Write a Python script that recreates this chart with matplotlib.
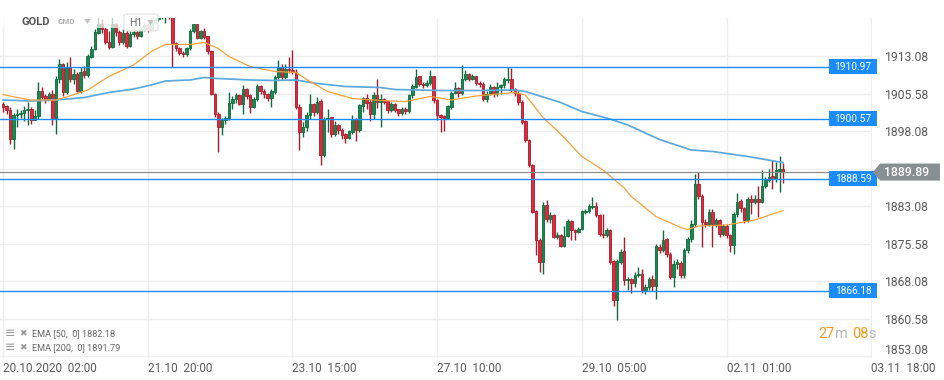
import numpy as np
import matplotlib.pyplot as plt
from matplotlib.patches import Polygon, Rectangle, FancyBboxPatch
from matplotlib import transforms

#* Hourly candles (bar index 0 = 20.10.2020 02:00)
first_open = 1903.6
close = [
  1903.0, 1902.3, 1896.5, 1901.3, 1901.5, 1901.8, 1902.3, 1902.6, 1900.4, 1901.2,
  1906.1, 1905.0, 1904.6, 1905.4, 1900.6, 1908.6, 1911.5, 1906.0, 1911.0, 1908.5,
  1909.5, 1906.2, 1910.0, 1909.3, 1913.0, 1914.6, 1917.8, 1919.5, 1918.5, 1916.0,
  1915.0, 1919.5, 1918.0, 1916.0, 1917.8, 1915.2, 1917.5, 1918.0, 1917.2, 1918.5,
  1919.3, 1918.6, 1919.8, 1920.5, 1921.0, 1921.8, 1922.5, 1921.5, 1915.7, 1914.7,
  1913.7, 1913.5, 1914.7, 1918.1, 1919.4, 1916.8, 1918.1, 1917.0, 1914.1, 1905.6,
  1901.6, 1899.0, 1900.3, 1900.7, 1903.8, 1904.5, 1905.3, 1903.6, 1906.6, 1905.2,
  1903.0, 1904.6, 1907.0, 1906.1, 1905.5, 1904.8, 1906.0, 1909.0, 1911.0, 1909.0,
  1910.6, 1910.3, 1909.9, 1903.0, 1898.0, 1899.0, 1901.3, 1903.4, 1902.0, 1904.0,
  1893.3, 1900.5, 1900.8, 1897.6, 1899.3, 1898.3, 1897.4, 1896.8, 1898.0, 1900.6,
  1898.3, 1903.2, 1904.8, 1903.8, 1901.6, 1905.3, 1903.9, 1904.6, 1904.0, 1902.3,
  1903.6, 1902.4, 1901.8, 1902.6, 1902.1, 1905.3, 1907.0, 1909.0, 1907.6, 1907.3,
  1907.8, 1909.0, 1904.3, 1901.3, 1901.0, 1900.8, 1903.0, 1905.8, 1906.8, 1905.8,
  1908.6, 1909.5, 1908.6, 1909.0, 1907.8, 1907.5, 1904.6, 1905.6, 1906.8, 1905.6,
  1906.9, 1907.3, 1908.4, 1908.6, 1906.4, 1905.8, 1904.0, 1900.0, 1896.3, 1891.3,
  1882.0, 1876.3, 1872.0, 1883.3, 1880.6, 1881.3, 1877.0, 1877.3, 1875.2, 1877.1,
  1880.0, 1878.3, 1878.0, 1878.6, 1882.0, 1882.1, 1883.0, 1883.1, 1881.3, 1877.6,
  1877.3, 1878.3, 1872.0, 1864.3, 1872.0, 1874.0, 1868.3, 1868.5, 1867.8, 1869.3,
  1869.6, 1866.2, 1867.0, 1868.6, 1867.1, 1875.0, 1874.4, 1876.4, 1873.6, 1869.0,
  1871.6, 1871.8, 1869.3, 1874.3, 1876.6, 1879.5, 1887.6, 1885.1, 1880.0, 1879.5,
  1882.0, 1879.5, 1880.2, 1877.6, 1879.1, 1877.3, 1875.3, 1881.5, 1884.0, 1882.8,
  1880.3, 1884.4, 1884.0, 1884.6, 1884.0, 1887.1, 1888.4, 1889.0, 1888.6, 1890.2,
  1890.4, 1889.89,
]
high = [
  1903.9, 1903.4, 1903.0, 1901.8, 1902.6, 1902.4, 1903.2, 1903.9, 1902.9, 1902.3,
  1908.0, 1907.0, 1905.5, 1906.0, 1906.3, 1909.1, 1912.5, 1911.8, 1912.0, 1913.0,
  1910.5, 1910.0, 1911.0, 1911.2, 1913.5, 1915.2, 1918.5, 1921.0, 1920.5, 1919.0,
  1918.2, 1921.0, 1919.8, 1918.3, 1918.5, 1918.5, 1918.2, 1919.0, 1918.6, 1919.2,
  1920.0, 1919.8, 1920.5, 1921.2, 1921.8, 1922.5, 1923.0, 1922.3, 1921.8, 1916.0,
  1915.0, 1914.2, 1915.0, 1918.6, 1919.6, 1919.5, 1918.4, 1918.8, 1917.2, 1914.3,
  1905.8, 1902.0, 1900.8, 1901.2, 1906.0, 1905.2, 1905.8, 1905.5, 1907.3, 1906.8,
  1905.5, 1905.0, 1907.5, 1907.3, 1906.5, 1905.7, 1906.5, 1909.3, 1912.3, 1911.5,
  1911.6, 1913.0, 1914.3, 1910.5, 1903.5, 1900.0, 1902.0, 1905.5, 1903.8, 1905.0,
  1904.5, 1901.0, 1902.5, 1901.0, 1900.2, 1899.6, 1898.7, 1897.8, 1898.4, 1901.3,
  1900.8, 1903.6, 1905.0, 1905.5, 1904.5, 1906.0, 1908.5, 1905.6, 1904.8, 1904.2,
  1904.0, 1903.8, 1902.6, 1903.0, 1903.0, 1905.6, 1907.5, 1910.6, 1909.2, 1908.0,
  1908.3, 1910.3, 1909.2, 1904.5, 1901.6, 1901.3, 1903.4, 1906.2, 1908.0, 1907.0,
  1911.3, 1910.4, 1909.8, 1909.6, 1909.2, 1908.2, 1908.0, 1906.2, 1907.6, 1907.2,
  1908.0, 1907.6, 1909.0, 1911.0, 1910.8, 1906.8, 1906.2, 1904.3, 1900.3, 1896.5,
  1891.6, 1882.3, 1876.8, 1884.0, 1884.3, 1882.0, 1881.6, 1878.0, 1877.5, 1879.1,
  1880.5, 1880.3, 1878.6, 1879.0, 1882.3, 1882.6, 1883.6, 1885.0, 1884.0, 1881.5,
  1881.6, 1878.8, 1878.5, 1872.4, 1872.6, 1874.6, 1876.9, 1869.0, 1868.8, 1870.0,
  1871.0, 1870.5, 1867.5, 1869.0, 1869.3, 1875.6, 1875.5, 1878.3, 1876.8, 1874.0,
  1872.3, 1872.5, 1872.2, 1874.8, 1877.0, 1880.3, 1889.6, 1890.0, 1885.5, 1880.5,
  1882.5, 1882.5, 1880.8, 1880.6, 1879.6, 1879.5, 1877.6, 1882.0, 1885.8, 1884.5,
  1883.0, 1885.0, 1885.3, 1885.3, 1887.1, 1890.4, 1889.0, 1890.6, 1892.4, 1892.0,
  1893.1, 1891.8,
]
low = [
  1902.0, 1901.6, 1895.5, 1894.6, 1898.9, 1900.8, 1900.2, 1899.3, 1899.6, 1900.3,
  1900.6, 1904.6, 1903.8, 1904.5, 1899.4, 1897.6, 1907.8, 1905.2, 1905.6, 1908.0,
  1907.5, 1906.0, 1905.8, 1908.8, 1909.0, 1912.8, 1914.3, 1917.5, 1917.8, 1915.5,
  1914.5, 1914.8, 1917.2, 1915.3, 1915.6, 1914.8, 1915.0, 1917.0, 1916.6, 1916.9,
  1918.2, 1918.0, 1918.3, 1919.5, 1920.2, 1920.6, 1919.8, 1920.5, 1910.9, 1914.2,
  1913.3, 1913.0, 1913.2, 1914.3, 1917.7, 1916.5, 1916.6, 1916.5, 1913.6, 1905.3,
  1901.0, 1894.0, 1897.4, 1899.5, 1900.3, 1902.6, 1903.8, 1903.3, 1901.5, 1904.5,
  1901.8, 1902.7, 1904.2, 1905.5, 1904.8, 1904.2, 1903.0, 1905.6, 1908.5, 1908.4,
  1908.5, 1909.8, 1909.5, 1902.6, 1894.3, 1897.0, 1898.2, 1900.5, 1901.2, 1901.5,
  1891.3, 1893.0, 1898.0, 1896.9, 1897.2, 1897.5, 1896.5, 1895.8, 1896.6, 1897.5,
  1896.2, 1897.9, 1902.0, 1902.5, 1900.2, 1900.5, 1902.8, 1899.0, 1903.5, 1901.8,
  1902.0, 1901.9, 1901.2, 1901.3, 1901.6, 1901.8, 1904.8, 1906.8, 1907.2, 1906.8,
  1907.0, 1907.4, 1903.8, 1900.3, 1898.0, 1898.2, 1900.5, 1902.6, 1905.5, 1905.0,
  1905.3, 1908.2, 1908.2, 1908.3, 1907.3, 1907.0, 1904.2, 1904.0, 1905.3, 1905.0,
  1905.2, 1905.5, 1906.8, 1907.8, 1906.0, 1905.2, 1903.4, 1899.5, 1896.0, 1891.0,
  1881.8, 1873.3, 1870.0, 1869.6, 1880.0, 1879.8, 1876.7, 1876.5, 1875.0, 1875.0,
  1877.0, 1876.3, 1876.3, 1877.8, 1878.3, 1881.6, 1881.8, 1882.6, 1881.0, 1877.2,
  1876.8, 1877.0, 1871.5, 1863.2, 1860.3, 1871.6, 1867.3, 1866.4, 1865.8, 1867.0,
  1868.9, 1865.8, 1865.5, 1866.3, 1866.2, 1864.6, 1873.8, 1874.0, 1873.0, 1868.5,
  1867.0, 1870.5, 1868.8, 1868.8, 1873.8, 1876.0, 1879.0, 1884.6, 1875.0, 1879.0,
  1879.2, 1875.0, 1879.0, 1877.0, 1877.2, 1876.8, 1874.0, 1873.6, 1881.0, 1882.0,
  1879.8, 1880.0, 1881.6, 1883.6, 1881.0, 1883.7, 1886.8, 1888.0, 1886.6, 1888.0,
  1886.0, 1887.8,
]

#* EMA curves sampled along the bar index
ema50_idx = [0, 4, 8, 15, 18, 24, 30, 37, 42, 46, 53, 57, 61, 64, 70, 77, 83, 87, 92, 99,
             107, 114, 121, 127, 134, 145, 148, 153, 158, 164, 170, 176, 178, 185, 192, 194,
             197, 205, 213, 221]
ema50_val = [1905.4, 1904.8, 1904.3, 1904.3, 1904.9, 1906.3, 1909.0, 1911.3, 1914.0, 1915.4,
             1915.4, 1915.8, 1914.6, 1913.0, 1911.0, 1910.0, 1909.8, 1908.0, 1906.0, 1904.6,
             1904.2, 1904.0, 1905.0, 1904.3, 1905.1, 1905.8, 1905.3, 1900.8, 1897.5, 1893.0,
             1890.3, 1886.7, 1885.0, 1881.0, 1878.8, 1878.4, 1879.1, 1879.3, 1880.3, 1882.18]
ema200_idx = [0, 8, 15, 23, 30, 37, 42, 46, 53, 57, 61, 70, 77, 83, 89, 97, 107, 111, 124,
              134, 145, 148, 158, 164, 172, 177, 186, 195, 201, 211, 221]
ema200_val = [1904.3, 1904.1, 1904.3, 1904.8, 1905.8, 1906.5, 1907.3, 1908.1, 1908.3, 1908.8,
              1908.6, 1908.3, 1908.2, 1908.3, 1907.6, 1907.0, 1906.8, 1906.4, 1906.2, 1906.2,
              1906.3, 1906.0, 1903.8, 1902.0, 1900.5, 1899.3, 1896.4, 1894.3, 1894.0, 1893.0,
              1891.79]

levels = [1910.97, 1900.57, 1888.59, 1866.18]
last_price = 1889.89

y_ticks = [1853.08, 1860.58, 1868.08, 1875.58, 1883.08, 1890.58, 1898.08, 1905.58, 1913.08]
x_ticks = [0, 41, 82, 123, 164, 205, 246]
x_labels = ['20.10.2020  02:00', '21.10  20:00', '23.10  15:00', '27.10  10:00',
            '29.10  05:00', '02.11  01:00', '03.11  18:00']


def main() -> None:
  plt.rcParams['font.family'] = ['Roboto', 'DejaVu Sans']

  W, H = 945, 380
  fig = plt.figure(figsize=(W / 100, H / 100), dpi=100)
  fig.patch.set_facecolor('white')
  ax = fig.add_axes([0, (H - 358) / H, 872 / W, (358 - 18) / H])

  c = np.array(close)
  o = np.concatenate([[first_open], c[:-1]])
  hi = np.maximum(np.array(high), np.maximum(o, c))
  lo = np.minimum(np.array(low), np.minimum(o, c))
  idx = np.arange(len(c))
  up = c >= o

  green, green_edge = '#17894f', '#0e6a3b'
  red, red_edge = '#df2a3d', '#a81d2d'

  #* wicks
  ax.vlines(idx[up], lo[up], hi[up], color=green_edge, lw=1, zorder=2)
  ax.vlines(idx[~up], lo[~up], hi[~up], color=red_edge, lw=1, zorder=2)

  #* bodies
  body = np.where(np.abs(c - o) < 0.15, 0.15, np.abs(c - o))
  ax.bar(idx[up], body[up], bottom=o[up], width=0.72, color=green,
         edgecolor=green_edge, linewidth=0.6, zorder=3)
  ax.bar(idx[~up], body[~up], bottom=c[~up], width=0.72, color=red,
         edgecolor=red_edge, linewidth=0.6, zorder=3)

  #* EMA lines
  ax.plot(ema200_idx, ema200_val, color='#5da8dd', lw=1.25, zorder=4)
  ax.plot(ema50_idx, ema50_val, color='#f6a13a', lw=0.9, zorder=4)

  #* horizontal levels
  for lv in levels:
    ax.axhline(lv, color='#1a8cff', lw=1.0, zorder=5)
  ax.axhline(last_price, color='#8e8e8e', lw=0.9, zorder=5)

  ytr = ax.get_yaxis_transform()
  for lv in levels:
    ax.add_patch(Rectangle((829 / 872, lv - 1.45), 48 / 872, 2.9, transform=ytr,
                           facecolor='#1a8cff', edgecolor='none', clip_on=False, zorder=6))
    ax.text(853 / 872, lv, f'{lv:.2f}', transform=ytr, color='white', fontsize=7.3,
            ha='center', va='center', clip_on=False, zorder=7)

  #* current price tag
  tag = Polygon([(873 / 872, last_price), (880 / 872, last_price + 1.7),
                 (940 / 872, last_price + 1.7), (940 / 872, last_price - 1.7),
                 (880 / 872, last_price - 1.7)], closed=True, transform=ytr,
                facecolor='#878f92', edgecolor='none', clip_on=False, zorder=6)
  ax.add_patch(tag)
  ax.text(907 / 872, last_price, f'{last_price:.2f}', transform=ytr, color='white',
          fontsize=8.8, fontweight='medium', ha='center', va='center',
          clip_on=False, zorder=7)

  #* axes look
  ax.set_xlim(-0.85, 246.2)
  ax.set_ylim(1852.7, 1920.7)
  ax.set_yticks(y_ticks)
  ax.set_yticklabels(['' if abs(t - 1890.58) < 0.01 else f'{t:.2f}' for t in y_ticks])
  ax.yaxis.tick_right()
  ax.tick_params(axis='y', length=0, pad=9, labelsize=8.7, labelcolor='#5a5a5a')
  #* bottom price label sits a bit higher, above the time labels
  bottom_lbl = ax.get_yticklabels()[0]
  bottom_lbl.set_transform(bottom_lbl.get_transform()
                           + transforms.ScaledTranslation(0, 5 / 72, fig.dpi_scale_trans))
  ax.set_xticks(x_ticks)
  ax.set_xticklabels(x_labels)
  ax.tick_params(axis='x', length=0, pad=3, labelsize=8.5, labelcolor='#5a5a5a')
  for lbl in ax.get_xticklabels():
    lbl.set_horizontalalignment('left')
  ax.grid(True, color='#ededed', lw=1, zorder=0)
  ax.set_axisbelow(True)
  for s in ax.spines.values():
    s.set_visible(False)

  fy = lambda px: 1 - px / H
  fx = lambda px: px / W

  #* header (symbol, type, interval)
  fig.patches.append(Rectangle((0, fy(28)), fx(120), 28 / H, transform=fig.transFigure,
                               facecolor='white', alpha=0.7, edgecolor='none', zorder=5))
  fig.text(fx(21), fy(22), 'GOLD', fontsize=8, fontweight='bold', color='#555555',
           va='center', zorder=6)
  fig.text(fx(58), fy(22), 'CMD', fontsize=5.8, fontweight='bold', color='#b0b0b0',
           va='center', zorder=6)
  fig.patches.append(Polygon([(fx(84), fy(19)), (fx(91), fy(19)), (fx(87.5), fy(24))],
                             closed=True, transform=fig.transFigure, facecolor='#c4c4c4',
                             edgecolor='none', zorder=6))
  fig.patches.append(FancyBboxPatch((fx(124), fy(31)), fx(34), 17 / H,
                                    boxstyle='round,pad=0,rounding_size=0.004',
                                    transform=fig.transFigure, facecolor='white',
                                    alpha=0.88, edgecolor='#dcdcdc', lw=0.8, zorder=5))
  fig.text(fx(129), fy(22.5), 'H1', fontsize=7.5, color='#666666', va='center', zorder=6)
  fig.patches.append(Polygon([(fx(147), fy(20)), (fx(154), fy(20)), (fx(150.5), fy(25))],
                             closed=True, transform=fig.transFigure, facecolor='#c4c4c4',
                             edgecolor='none', zorder=6))

  #* indicator legend
  for py, txt in [(334, 'EMA [50,  0] 1882.18'), (347.5, 'EMA [200,  0] 1891.79')]:
    fig.text(fx(5), fy(py), '\u2261', fontsize=9, color='#9a9a9a', va='center',
             family='DejaVu Sans')
    fig.text(fx(19), fy(py), '\u2716', fontsize=6.5, color='#9a9a9a', va='center',
             family='DejaVu Sans')
    fig.text(fx(32), fy(py), txt, fontsize=6.6, color='#666666', va='center')

  #* candle timer
  orange, light = '#f39a1e', '#b7b7b7'
  fig.text(fx(818), fy(334), '27', fontsize=10.5, color=orange, va='center')
  fig.text(fx(835), fy(334), 'm', fontsize=10.5, color=light, va='center')
  fig.text(fx(852), fy(334), '08', fontsize=10.5, color=orange, va='center')
  fig.text(fx(868.5), fy(334), 's', fontsize=10.5, color=light, va='center')

  fig.savefig('out.png', dpi=100, facecolor='white')


if __name__ == '__main__':
  main()
